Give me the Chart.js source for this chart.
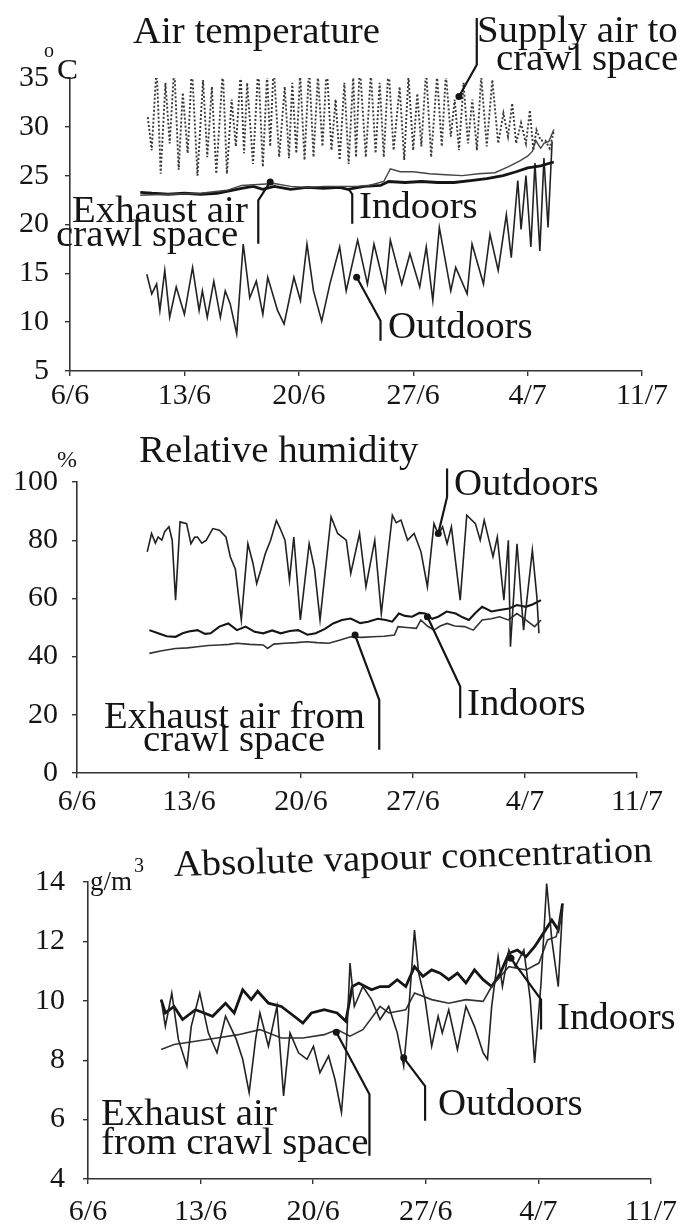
<!DOCTYPE html>
<html><head><meta charset="utf-8">
<script src="https://cdn.jsdelivr.net/npm/chart.js@4.4.0/dist/chart.umd.min.js"></script>
<style>
html,body{margin:0;padding:0;background:#fff;}
canvas{position:absolute;left:0;display:block;}
</style></head>
<body>
<canvas id="c1" width="687" height="410" style="top:0"></canvas>
<canvas id="c2" width="687" height="420" style="top:410px"></canvas>
<canvas id="c3" width="687" height="420" style="top:810px"></canvas>
<script>
// ---------- shared axis data ----------
const tickDays = [6, 13, 20, 27, 34, 41];
const tickLabels = ['6/6', '13/6', '20/6', '27/6', '4/7', '11/7'];

// ---------- Air temperature (°C), [day of June, value] ----------
const tempOutdoors = [[10.7,14.9],[11.0,12.9],[11.3,13.9],[11.5,11.2],[11.8,15.3],[12.1,10.5],[12.5,13.6],[13.0,10.8],[13.5,15.6],[13.9,11.2],[14.1,13.2],[14.4,10.5],[14.8,14.2],[15.2,10.5],[15.5,13.2],[15.8,11.9],[16.2,8.8],[16.6,18.0],[17.0,12.5],[17.4,14.2],[17.8,10.8],[18.1,14.6],[18.7,11.2],[19.1,9.8],[19.7,14.6],[20.1,12.2],[20.5,18.0],[20.9,13.2],[21.4,10.1],[21.9,13.9],[22.5,17.7],[22.9,13.2],[23.6,18.4],[24.2,13.9],[24.6,18.0],[25.3,13.2],[25.6,18.4],[26.3,13.9],[26.8,17.0],[27.4,13.6],[27.8,17.7],[28.2,12.2],[28.6,19.7],[29.3,13.2],[29.6,15.6],[30.3,12.9],[30.6,18.0],[31.3,13.9],[31.7,19.0],[32.2,15.3],[32.7,21.0],[33.0,16.6],[33.4,24.5],[33.6,19.5],[33.9,25.0],[34.2,17.7],[34.45,26.3],[34.75,17.3],[35.0,26.8],[35.25,19.7],[35.5,28.5]];
const tempSupply = [[10.76,31.0],[11.0,27.6],[11.3,36.2],[11.55,25.2],[11.84,34.5],[12.1,28.3],[12.38,36.2],[12.65,25.6],[12.9,33.5],[13.2,27.3],[13.46,36.2],[13.8,25.0],[14.14,34.8],[14.4,26.9],[14.68,34.1],[14.95,25.2],[15.35,35.8],[15.6,25.2],[15.89,32.8],[16.15,28.0],[16.44,35.5],[16.65,27.3],[16.84,34.5],[17.2,26.2],[17.52,36.2],[17.8,25.9],[18.06,35.5],[18.25,28.0],[18.46,36.3],[18.8,26.9],[19.14,34.1],[19.4,26.8],[19.6,34.5],[19.85,27.3],[20.08,35.5],[20.35,26.6],[20.63,36.2],[20.9,26.9],[21.17,35.2],[21.45,28.0],[21.71,36.2],[22.0,27.6],[22.25,32.8],[22.5,26.6],[22.79,34.5],[23.05,26.2],[23.33,35.2],[23.5,26.9],[23.73,36.3],[24.1,26.9],[24.41,35.5],[24.7,27.3],[24.95,34.5],[25.2,26.9],[25.49,36.2],[25.8,27.6],[26.17,34.1],[26.45,26.6],[26.71,35.2],[27.0,27.6],[27.25,33.4],[27.5,28.0],[27.79,35.8],[28.1,26.9],[28.46,35.2],[28.75,28.0],[29.0,35.5],[29.3,29.0],[29.54,32.8],[29.8,27.6],[30.08,34.5],[30.35,28.3],[30.62,32.8],[30.9,27.6],[31.16,35.2],[31.5,28.0],[31.84,34.8],[32.2,28.3],[32.52,31.4],[32.8,29.0],[33.06,32.4],[33.3,28.3],[33.6,30.4],[33.9,28.3],[34.14,31.7],[34.35,27.6],[34.54,29.7],[34.8,28.6],[35.08,28.6],[35.35,27.8],[35.62,29.7]];
const tempIndoors = [[10.3,23.3],[11.0,23.2],[12.0,23.1],[13.0,23.2],[14.0,23.1],[15.0,23.2],[15.6,23.4],[16.5,23.7],[17.2,23.9],[17.8,23.6],[18.5,23.9],[19.5,23.6],[20.5,23.8],[21.5,23.7],[22.5,23.8],[23.0,23.6],[24.0,23.9],[25.0,24.0],[25.5,24.4],[26.5,24.3],[27.5,24.4],[28.5,24.3],[29.5,24.3],[30.5,24.5],[31.5,24.7],[32.5,25.0],[33.3,25.4],[34.0,25.8],[34.8,26.0],[35.6,26.4]];
const tempExhaust = [[10.3,23.0],[12.0,23.1],[14.0,23.2],[15.6,23.5],[16.5,24.0],[17.5,24.1],[18.5,24.2],[19.5,23.9],[20.5,23.8],[21.5,23.9],[22.5,23.9],[23.5,23.9],[24.3,24.0],[25.2,24.4],[25.6,25.7],[26.2,25.4],[27.0,25.4],[28.0,25.2],[29.0,25.1],[30.0,25.0],[31.0,25.2],[32.0,25.3],[32.8,25.9],[33.5,26.5],[34.0,27.0],[34.3,27.5],[34.5,28.6],[34.8,27.8],[35.0,28.3],[35.3,28.5],[35.6,29.7]];

// ---------- Relative humidity (%) ----------
const rhOutdoors = [[10.39,76.0],[10.66,82.3],[10.9,79.0],[11.07,81.1],[11.3,80.0],[11.48,82.9],[11.75,84.6],[11.95,80.0],[12.16,59.4],[12.44,86.3],[12.85,85.7],[13.12,78.8],[13.35,81.0],[13.53,81.1],[13.8,79.0],[14.08,80.0],[14.49,84.0],[14.9,83.4],[15.31,81.1],[15.58,74.3],[15.9,70.0],[16.27,52.6],[16.68,78.8],[17.0,72.0],[17.23,65.1],[17.5,70.0],[17.77,75.4],[18.1,80.0],[18.46,86.8],[18.7,84.0],[19.0,80.0],[19.28,66.3],[19.55,81.1],[19.96,52.6],[20.51,78.8],[20.85,70.0],[21.19,52.6],[21.88,88.0],[22.29,82.3],[22.83,80.0],[23.11,68.6],[23.66,82.3],[24.06,64.0],[24.61,80.0],[25.02,54.8],[25.71,88.6],[25.95,86.0],[26.25,86.9],[26.66,80.0],[27.07,82.3],[27.5,76.0],[27.9,64.0],[28.31,85.7],[28.58,82.0],[28.85,84.6],[29.13,78.8],[29.4,84.6],[29.95,59.4],[30.36,88.6],[30.9,85.7],[31.2,80.0],[31.45,86.9],[32.0,74.3],[32.27,81.1],[32.68,59.4],[32.96,80.0],[33.09,43.4],[33.5,78.8],[33.91,49.1],[34.46,76.6],[34.74,60.6],[34.87,48.0]];
const rhIndoors = [[10.52,49.1],[11.07,48.0],[11.6,47.0],[12.16,46.8],[12.6,48.0],[12.98,48.6],[13.53,49.1],[14.0,47.8],[14.35,48.0],[14.9,50.3],[15.45,51.4],[16.0,49.1],[16.54,50.3],[17.1,48.5],[17.64,48.0],[18.2,49.0],[18.73,48.0],[19.3,48.8],[19.82,49.1],[20.4,47.5],[20.92,48.0],[21.5,49.5],[22.01,51.4],[22.56,52.6],[23.11,53.1],[23.7,51.5],[24.2,52.0],[24.8,53.0],[25.3,52.6],[25.7,52.0],[26.12,54.8],[26.5,54.0],[26.94,53.7],[27.4,55.0],[27.76,54.8],[28.2,53.0],[28.58,53.7],[29.1,55.5],[29.67,54.8],[30.1,53.5],[30.49,52.6],[30.9,55.0],[31.32,57.1],[31.9,55.5],[32.41,56.0],[33.0,56.5],[33.5,57.7],[34.05,57.1],[34.5,58.0],[35.0,59.4]];
const rhExhaust = [[10.52,41.1],[11.3,42.0],[12.16,42.8],[12.9,43.0],[13.53,43.4],[14.2,43.8],[14.9,44.0],[15.5,44.2],[16.0,44.6],[16.8,44.2],[17.64,44.0],[17.91,42.8],[18.3,44.3],[19.0,44.6],[19.7,44.8],[20.37,45.1],[21.0,44.8],[21.74,44.6],[22.4,45.6],[23.11,46.8],[23.8,46.6],[24.48,46.8],[25.2,47.0],[25.84,47.4],[26.06,50.3],[26.6,50.0],[27.21,49.7],[27.49,52.6],[27.9,50.5],[28.31,49.1],[28.7,50.5],[29.13,51.4],[29.6,50.5],[30.22,50.3],[30.77,49.1],[31.32,52.6],[31.9,53.0],[32.41,53.7],[32.96,52.6],[33.5,54.8],[34.05,52.6],[34.6,50.3],[35.0,52.6]];

// ---------- Absolute vapour concentration (g/m3) ----------
const avOutdoors = [[10.55,10.04],[10.81,9.14],[11.21,10.26],[11.62,8.7],[12.15,7.8],[12.42,9.14],[12.95,10.26],[13.48,8.92],[14.02,8.25],[14.55,9.48],[15.22,8.7],[15.62,8.03],[16.02,6.91],[16.42,8.7],[16.69,9.59],[17.22,8.47],[17.75,9.81],[18.16,6.8],[18.56,8.92],[19.09,8.25],[19.62,8.03],[20.02,8.47],[20.42,7.58],[20.96,8.14],[21.36,7.35],[21.76,6.24],[22.03,8.03],[22.29,11.27],[22.56,9.81],[23.09,10.48],[23.63,10.04],[24.16,9.37],[24.7,9.81],[25.23,8.92],[25.63,7.8],[25.9,9.37],[26.3,12.38],[26.56,10.93],[26.96,10.04],[27.37,8.47],[27.77,9.48],[28.03,8.92],[28.43,9.7],[28.97,8.36],[29.5,9.81],[30.03,9.14],[30.57,8.25],[30.84,8.03],[31.1,9.81],[31.5,11.49],[31.77,10.48],[32.17,11.71],[32.57,11.15],[33.1,11.71],[33.5,10.04],[33.77,7.91],[34.17,10.6],[34.52,13.95],[34.84,12.05],[35.24,10.48],[35.51,13.16]];
const avIndoors = [[10.55,10.04],[10.81,9.59],[11.35,9.81],[11.88,9.37],[12.68,9.7],[13.22,9.59],[13.75,9.48],[14.55,9.92],[15.09,9.59],[15.62,10.37],[16.15,10.04],[16.55,10.32],[17.22,9.92],[18.02,9.81],[18.82,9.48],[19.36,9.25],[19.89,9.59],[20.69,9.7],[21.49,9.59],[22.03,9.31],[22.43,10.48],[22.83,10.6],[23.63,10.37],[24.16,10.48],[24.7,10.48],[25.23,10.71],[25.76,10.48],[26.3,11.15],[26.83,10.82],[27.37,11.04],[27.9,10.93],[28.43,10.71],[28.97,10.93],[29.5,10.6],[30.03,11.04],[30.57,10.71],[31.1,10.48],[31.64,10.93],[32.17,11.6],[32.7,11.71],[33.24,11.49],[33.77,11.82],[34.31,12.27],[34.84,12.72],[35.24,12.38],[35.51,13.28]];
const avExhaust = [[10.55,8.36],[11.35,8.53],[12.68,8.64],[14.02,8.75],[15.35,8.86],[16.69,9.03],[18.02,8.75],[19.36,8.75],[20.69,8.86],[21.49,9.03],[22.29,8.81],[23.09,9.03],[23.63,9.42],[24.16,9.81],[24.7,9.59],[25.76,9.7],[26.3,10.26],[27.37,10.04],[28.43,9.92],[29.5,10.04],[30.57,9.98],[31.1,10.48],[32.17,11.15],[33.24,11.04],[34.04,11.27],[34.57,12.05],[35.11,12.16],[35.51,13.05]];

// ---------- styling / layout ----------
const FONT = "'Liberation Serif', 'Times New Roman', serif";
const INK = '#151515';
const AXIS = '#333';

const annos = {
  c1: {
    texts: [
      {t:'Air temperature', x:133, y:43, s:37},
      {t:'o', x:44, y:57, s:20},
      {t:'C', x:57, y:79, s:30},
      {t:'Supply air to', x:477, y:42, s:37},
      {t:'crawl space', x:496, y:70, s:37},
      {t:'Exhaust air', x:72, y:222, s:37},
      {t:'crawl space', x:56, y:246, s:37},
      {t:'Indoors', x:359, y:218, s:37},
      {t:'Outdoors', x:388, y:338, s:37}
    ],
    leaders: [
      {p:[[29.8,33.1],[30.89,36.35],[30.89,41.15]], dot:true},
      {p:[[18.25,24.36],[17.52,22.48],[17.52,18.02]], dot:true},
      {p:[[23.06,23.6],[23.27,23.1],[23.27,20.08]], dot:false},
      {p:[[23.54,14.6],[25.0,10.14],[25.0,8.09]], dot:true}
    ]
  },
  c2: {
    texts: [
      {t:'Relative humidity', x:139, y:52, s:37},
      {t:'%', x:57, y:57, s:24},
      {t:'Outdoors', x:454, y:85, s:37},
      {t:'Indoors', x:467, y:305, s:37},
      {t:'Exhaust air from', x:104, y:318, s:37},
      {t:'crawl space', x:143, y:341, s:37}
    ],
    leaders: [
      {p:[[28.58,82.3],[29.13,94.85],[29.13,104.6]], dot:true},
      {p:[[27.9,53.7],[29.95,29.7],[29.95,18.8]], dot:true},
      {p:[[23.38,47.4],[24.89,25.1],[24.89,8.0]], dot:true}
    ]
  },
  c3: {
    texts: [
      {t:'Absolute vapour concentration', x:174, y:66, s:37, rot:-0.03},
      {t:'g/m', x:90, y:80, s:27},
      {t:'3', x:134, y:62, s:20},
      {t:'Indoors', x:557, y:219, s:37},
      {t:'Outdoors', x:438, y:305, s:37},
      {t:'Exhaust air', x:101, y:315, s:37},
      {t:'from crawl space', x:101, y:344, s:37}
    ],
    leaders: [
      {p:[[32.3,11.43],[34.17,10.04],[34.17,9.03]], dot:true},
      {p:[[25.63,8.08],[26.96,7.13],[26.96,5.96]], dot:true},
      {p:[[21.44,8.94],[23.5,6.85],[23.5,4.78]], dot:true}
    ]
  }
};

const annPlugin = {
  id: 'annText',
  afterDraw(chart) {
    const cfg = annos[chart.canvas.id];
    if (!cfg) return;
    const ctx = chart.ctx, xs = chart.scales.x, ys = chart.scales.y;
    ctx.save();
    ctx.strokeStyle = INK; ctx.fillStyle = INK; ctx.lineWidth = 2.2;
    cfg.leaders.forEach(l => {
      ctx.beginPath();
      l.p.forEach((pt, i) => {
        const px = xs.getPixelForValue(pt[0]), py = ys.getPixelForValue(pt[1]);
        if (i === 0) ctx.moveTo(px, py); else ctx.lineTo(px, py);
      });
      ctx.stroke();
      if (l.dot) {
        ctx.beginPath();
        ctx.arc(xs.getPixelForValue(l.p[0][0]), ys.getPixelForValue(l.p[0][1]), 3.5, 0, Math.PI * 2);
        ctx.fill();
      }
    });
    ctx.textBaseline = 'alphabetic'; ctx.textAlign = 'left';
    cfg.texts.forEach(t => {
      ctx.save();
      ctx.font = t.s + 'px ' + FONT;
      ctx.translate(t.x, t.y);
      if (t.rot) ctx.rotate(t.rot);
      if (t.s >= 30) ctx.scale(1.05, 1);
      ctx.fillText(t.t, 0, 0);
      ctx.restore();
    });
    ctx.restore();
  }
};

const toXY = arr => arr.map(p => ({x: p[0], y: p[1]}));
function ds(arr, w, dash, col) {
  return {data: toXY(arr), borderColor: col || INK, borderWidth: w, borderDash: dash || [],
          pointRadius: 0, tension: 0, fill: false};
}

function build(id, H, area, ycfg, datasets, xPad, yPad) {
  return new Chart(document.getElementById(id), {
    type: 'line',
    data: {datasets},
    options: {
      responsive: false, animation: false, events: [],
      layout: {padding: {left: 0, top: area.top, right: 687 - area.right, bottom: 0}},
      plugins: {legend: {display: false}, tooltip: {enabled: false}, title: {display: false}},
      scales: {
        x: {
          type: 'linear', min: 6, max: 41,
          afterBuildTicks: s => { s.ticks = tickDays.map(v => ({value: v})); },
          afterFit: s => { s.height = H - area.bottom; },
          border: {display: true, color: AXIS, width: 1.6},
          grid: {drawOnChartArea: false, drawTicks: true, tickLength: 5, color: AXIS, lineWidth: 1.4},
          ticks: {font: {family: FONT, size: 30}, color: INK, padding: xPad, maxRotation: 0, autoSkip: false,
                  callback: v => tickLabels[tickDays.indexOf(v)]}
        },
        y: {
          min: ycfg.min, max: ycfg.max,
          afterFit: s => { s.width = area.left; },
          border: {display: true, color: AXIS, width: 1.6},
          grid: {drawOnChartArea: false, drawTicks: true, tickLength: 5, color: AXIS, lineWidth: 1.4},
          ticks: {stepSize: ycfg.step, font: {family: FONT, size: 30}, color: INK, padding: yPad}
        }
      }
    },
    plugins: [annPlugin]
  });
}

build('c1', 410, {top: 78, bottom: 371, left: 70, right: 642}, {min: 5, max: 35, step: 5}, [
  ds(tempSupply, 1.9, [2, 2], '#3a3a3a'),
  ds(tempExhaust, 1.4, [], '#444'),
  ds(tempIndoors, 2.8),
  ds(tempOutdoors, 1.6, [], '#222')
], 2, 16);

build('c2', 420, {top: 72, bottom: 363, left: 77, right: 637}, {min: 0, max: 100, step: 20}, [
  ds(rhOutdoors, 1.6, [], '#222'),
  ds(rhIndoors, 2.1),
  ds(rhExhaust, 1.6, [], '#333')
], 6, 14);

build('c3', 420, {top: 72, bottom: 369, left: 88, right: 663}, {min: 4, max: 14, step: 2}, [
  ds(avOutdoors, 1.6, [], '#222'),
  ds(avExhaust, 1.6, [], '#333'),
  ds(avIndoors, 2.8)
], 10, 18);
</script>
</body></html>
